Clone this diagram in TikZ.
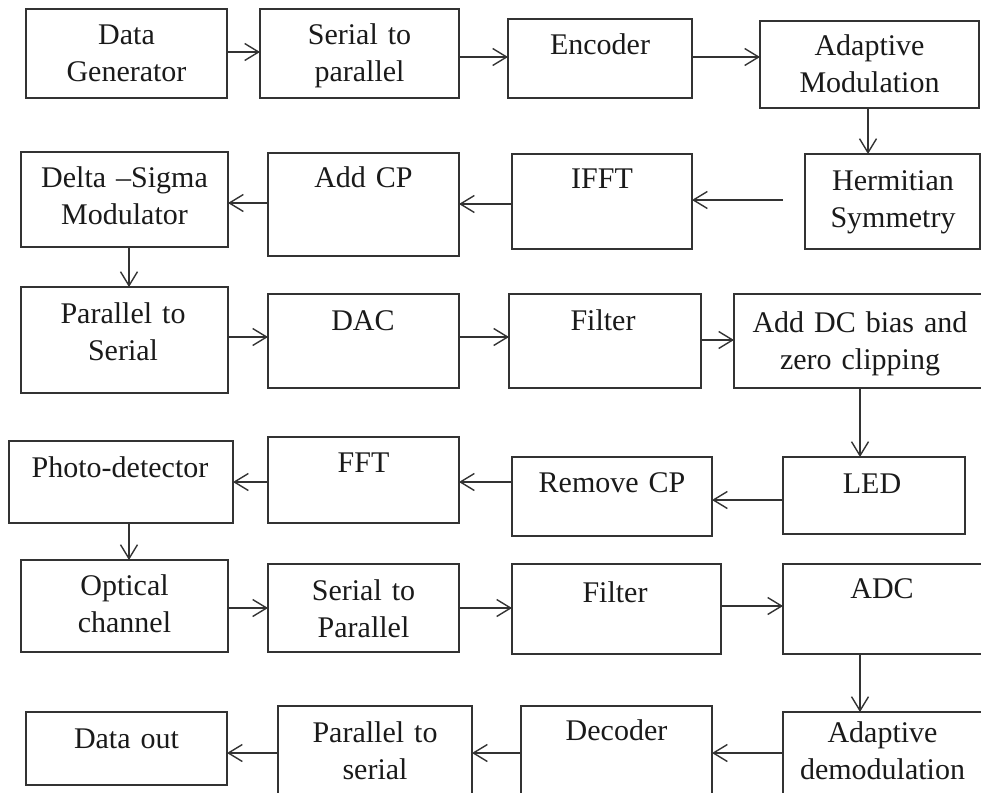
\documentclass[tikz,border=0pt]{standalone}
\usepackage{fontspec}
\setmainfont{Liberation Serif}
\usetikzlibrary{arrows.meta}
\definecolor{ln}{HTML}{333333}
\definecolor{tx}{HTML}{1A1A1A}
\tikzset{
  box/.style={draw=ln, line width=1.6pt, fill=none, inner sep=0pt, outer sep=0pt, anchor=north west},
  lbl/.style={text=tx, font=\fontsize{30}{37}\selectfont, text width=260pt, align=center, anchor=base, inner sep=0pt},
  arr/.style={draw=ln, line width=1.6pt, -{Straight Barb[length=14pt,width=17pt,line width=1.4pt]}}
}
\begin{document}
\begin{tikzpicture}[x=1pt,y=-1pt]
\useasboundingbox (0,0) rectangle (981,792);
\clip (0,0) rectangle (981,792);
% row 1
\node[box, minimum width=201pt, minimum height=89pt] (dg) at (26,9) {};
\node[lbl] (dgt) at (126.5,45) {Data\\Generator};
\node[box, minimum width=199pt, minimum height=89pt] (spa) at (260,9) {};
\node[lbl] (spat) at (359.5,45) {Serial to\\parallel};
\node[box, minimum width=184pt, minimum height=79pt] (enc) at (508,19) {};
\node[lbl] (enct) at (600,55) {Encoder};
\node[box, minimum width=219pt, minimum height=87pt] (am) at (760,21) {};
\node[lbl] (amt) at (869.5,56) {Adaptive\\Modulation};
% row 2
\node[box, minimum width=207pt, minimum height=95pt] (ds) at (21,152) {};
\node[lbl] (dst) at (124.5,187) {Delta –Sigma\\Modulator};
\node[box, minimum width=191pt, minimum height=103pt] (acp) at (268,153) {};
\node[lbl] (acpt) at (363.5,187) {Add CP};
\node[box, minimum width=180pt, minimum height=95pt] (ifft) at (512,154) {};
\node[lbl] (ifftt) at (602,188) {IFFT};
\node[box, minimum width=175pt, minimum height=95pt] (herm) at (805,154) {};
\node[lbl] (hermt) at (893,190) {Hermitian\\Symmetry};
% row 3
\node[box, minimum width=207pt, minimum height=106pt] (pts) at (21,287) {};
\node[lbl] (ptst) at (123,323) {Parallel to\\Serial};
\node[box, minimum width=191pt, minimum height=94pt] (dac) at (268,294) {};
\node[lbl] (dact) at (363,330) {DAC};
\node[box, minimum width=192pt, minimum height=94pt] (fa) at (509,294) {};
\node[lbl] (fat) at (603,330) {Filter};
\node[box, minimum width=260pt, minimum height=94pt] (dcb) at (734,294) {};
\node[lbl] (dcbt) at (860,332) {Add DC bias and\\zero clipping};
% row 4
\node[box, minimum width=224pt, minimum height=82pt] (pd) at (9,441) {};
\node[lbl] (pdt) at (120,477) {Photo-detector};
\node[box, minimum width=191pt, minimum height=86pt] (fft) at (268,437) {};
\node[lbl] (fftt) at (363.5,472) {FFT};
\node[box, minimum width=200pt, minimum height=79pt] (rcp) at (512,457) {};
\node[lbl] (rcpt) at (612,492) {Remove CP};
\node[box, minimum width=182pt, minimum height=77pt] (led) at (783,457) {};
\node[lbl] (ledt) at (872,493) {LED};
% row 5
\node[box, minimum width=207pt, minimum height=92pt] (oc) at (21,560) {};
\node[lbl] (oct) at (124.5,595) {Optical\\channel};
\node[box, minimum width=191pt, minimum height=88pt] (spb) at (268,564) {};
\node[lbl] (spbt) at (363.5,600) {Serial to\\Parallel};
\node[box, minimum width=209pt, minimum height=90pt] (fb) at (512,564) {};
\node[lbl] (fbt) at (615,602) {Filter};
\node[box, minimum width=210pt, minimum height=90pt] (adc) at (783,564) {};
\node[lbl] (adct) at (882,598) {ADC};
% row 6
\node[box, minimum width=201pt, minimum height=73pt] (dout) at (26,712) {};
\node[lbl] (doutt) at (126.5,748) {Data out};
\node[box, minimum width=194pt, minimum height=100pt] (psb) at (278,706) {};
\node[lbl] (psbt) at (375,742) {Parallel to\\serial};
\node[box, minimum width=191pt, minimum height=100pt] (dec) at (521,706) {};
\node[lbl] (dect) at (616.5,740) {Decoder};
\node[box, minimum width=210pt, minimum height=100pt] (ad) at (783,712) {};
\node[lbl] (adt) at (882.5,742) {Adaptive\\demodulation};
% connectors
\coordinate (hs) at (783,200);
\draw[arr] (dg.east |- 0,52) -- (spa.west |- 0,52);
\draw[arr] (spa.east |- 0,57) -- (enc.west |- 0,57);
\draw[arr] (enc.east |- 0,57) -- (am.west |- 0,57);
\draw[arr] (am.south -| 868,0) -- (herm.north -| 868,0);
\draw[arr] (hs) -- (ifft.east |- hs);
\draw[arr] (ifft.west |- 0,204) -- (acp.east |- 0,204);
\draw[arr] (acp.west |- 0,203) -- (ds.east |- 0,203);
\draw[arr] (ds.south -| 129,0) -- (pts.north -| 129,0);
\draw[arr] (pts.east |- 0,337) -- (dac.west |- 0,337);
\draw[arr] (dac.east |- 0,337) -- (fa.west |- 0,337);
\draw[arr] (fa.east |- 0,340) -- (dcb.west |- 0,340);
\draw[arr] (dcb.south -| 860,0) -- (led.north -| 860,0);
\draw[arr] (led.west |- 0,500) -- (rcp.east |- 0,500);
\draw[arr] (rcp.west |- 0,482) -- (fft.east |- 0,482);
\draw[arr] (fft.west |- 0,482) -- (pd.east |- 0,482);
\draw[arr] (pd.south -| 129,0) -- (oc.north -| 129,0);
\draw[arr] (oc.east |- 0,608) -- (spb.west |- 0,608);
\draw[arr] (spb.east |- 0,608) -- (fb.west |- 0,608);
\draw[arr] (fb.east |- 0,606) -- (adc.west |- 0,606);
\draw[arr] (adc.south -| 860,0) -- (ad.north -| 860,0);
\draw[arr] (ad.west |- 0,753) -- (dec.east |- 0,753);
\draw[arr] (dec.west |- 0,753) -- (psb.east |- 0,753);
\draw[arr] (psb.west |- 0,753) -- (dout.east |- 0,753);
\end{tikzpicture}
\end{document}
